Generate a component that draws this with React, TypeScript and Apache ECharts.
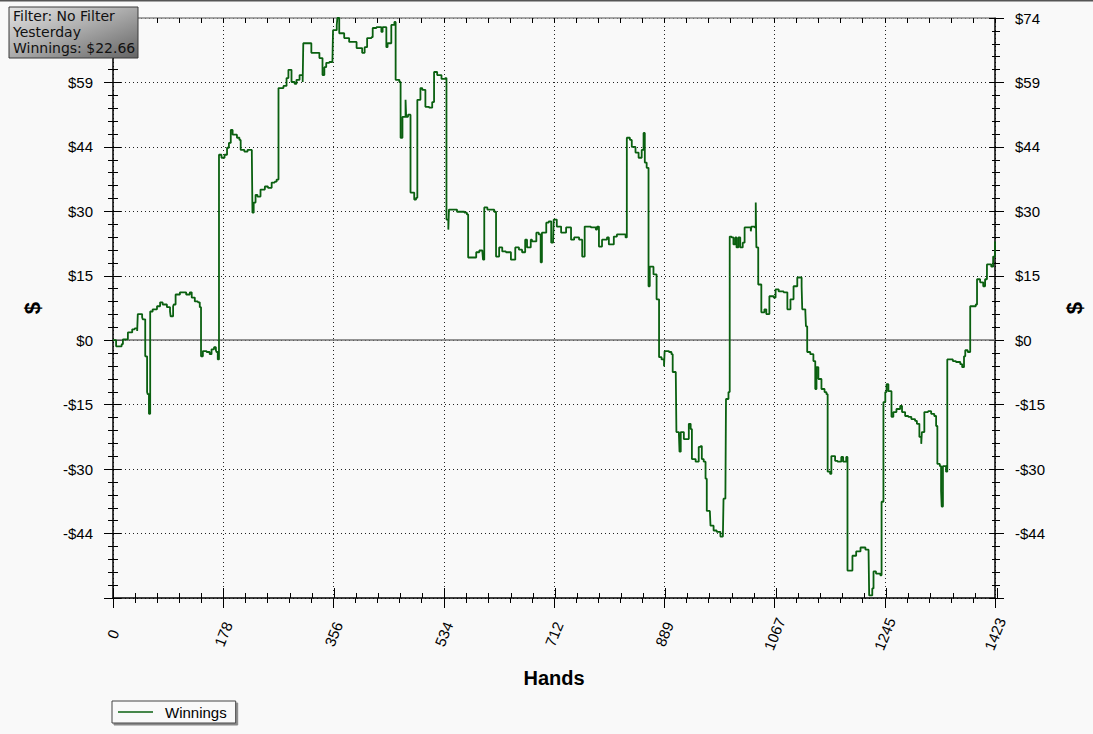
import React, { useEffect, useRef } from "react";
import * as echarts from "echarts";

const hands = [
  0,5,8,14,16,21,24,31,35,39,
  40,47,48,52,55,56,58,60,64,71,
  76,80,87,92,93,97,98,101,108,113,
  118,124,127,132,137,140,142,145,151,156,
  159,163,166,167,169,171,175,180,184,187,
  190,193,200,204,206,212,217,224,225,227,
  230,233,238,245,250,256,261,264,267,275,
  280,283,288,293,296,301,306,307,320,333,
  338,341,344,349,354,355,361,362,365,373,
  381,393,402,406,410,417,419,425,433,435,
  441,443,449,454,456,462,464,467,472,473,
  476,480,486,489,491,496,499,504,510,515,
  518,523,530,536,538,541,542,555,567,571,
  573,583,586,591,596,597,599,604,615,618,
  623,628,634,642,649,655,660,665,668,674,
  676,683,687,690,692,699,703,707,710,711,
  716,723,731,739,744,752,757,761,771,779,
  781,784,789,797,800,805,808,813,819,827,
  829,834,837,843,848,853,856,858,861,864,
  866,872,877,881,885,889,890,897,901,903,
  908,909,913,914,916,921,926,929,932,934,
  940,945,948,950,953,956,958,963,964,969,
  974,980,984,985,988,989,993,995,998,1001,
  1004,1006,1009,1012,1016,1019,1025,1029,1030,1035,
  1037,1038,1041,1046,1051,1054,1059,1066,1069,1074,
  1082,1088,1093,1098,1104,1111,1112,1117,1118,1120,
  1125,1130,1133,1135,1138,1143,1148,1151,1153,1157,
  1159,1165,1169,1175,1178,1183,1185,1191,1193,1199,
  1206,1214,1219,1220,1225,1227,1231,1238,1240,1243,
  1246,1248,1251,1256,1259,1264,1270,1273,1278,1283,
  1288,1294,1297,1301,1304,1305,1309,1315,1320,1325,
  1328,1330,1334,1336,1337,1339,1344,1346,1351,1355,
  1360,1367,1370,1373,1375,1379,1383,1388,1392,1394,
  1399,1404,1407,1410,1415,1417,1420,1423,
];

const winnings = [
  0,-1.4,-1.4,-0.9,0.2,0.2,1.8,2.5,2.7,2.1,
  6.0,5.3,4.8,-3.7,-11.9,-12.4,-16.9,6.6,7.1,7.8,
  8.7,8.2,7.6,6.6,5.5,7.8,8.2,10.5,11.0,11.0,
  10.5,11.0,9.8,8.9,8.7,7.6,-3.7,-2.5,-2.7,-3.2,
  -2.1,-1.6,-2.3,-2.7,-4.4,42.6,41.9,42.6,44.2,45.3,
  48.3,47.2,46.5,46.0,43.7,43.3,43.7,42.6,29.3,31.6,
  33.4,33.0,34.6,35.3,35.0,36.2,36.4,36.9,57.9,58.4,
  60.2,62.1,59.3,58.9,59.8,60.9,59.3,68.2,66.0,64.8,
  60.9,62.7,63.7,63.9,63.9,71.2,72.4,74.0,70.5,69.4,
  68.5,67.1,66.0,67.3,69.4,69.6,71.7,71.9,70.8,71.9,
  67.3,68.2,72.4,73.1,59.8,59.3,46.5,51.3,55.2,51.3,
  51.8,33.9,32.3,32.7,55.2,57.9,57.5,53.6,53.4,54.7,
  61.6,60.9,60.0,60.2,27.7,25.4,30.0,29.5,29.3,28.9,
  19.0,19.0,20.2,20.6,20.2,18.5,30.5,30.0,29.5,19.2,
  21.3,20.4,20.2,18.5,21.3,20.8,20.2,23.1,21.3,23.1,
  22.7,24.7,24.3,17.9,24.7,27.0,27.3,22.4,22.4,27.7,
  26.1,24.7,25.9,23.1,23.6,23.1,19.2,26.1,25.9,25.4,
  26.1,21.5,23.1,23.6,22.0,22.0,23.8,24.3,24.3,23.6,
  46.5,46.0,44.4,43.1,41.9,43.7,47.6,40.8,39.6,12.4,
  16.9,15.1,9.4,-3.9,-4.4,-6.0,-2.5,-2.7,-3.2,-7.3,
  -7.8,-21.1,-21.5,-25.6,-21.1,-22.7,-22.7,-19.2,-20.4,-27.3,
  -27.9,-24.5,-24.3,-27.3,-27.9,-31.8,-39.2,-39.4,-42.6,-43.7,
  -44.0,-45.1,-44.9,-36.4,-36.4,-13.5,-11.9,23.8,23.6,22.0,
  23.6,21.3,23.6,21.3,22.4,25.9,25.9,25.0,26.1,25.9,
  31.6,21.3,12.8,6.4,7.1,6.0,10.1,9.8,11.7,11.2,
  11.0,7.1,9.4,12.4,14.4,12.4,7.1,6.6,3.2,-2.7,
  -3.2,-4.8,-11.2,-6.2,-8.9,-11.2,-11.9,-12.4,-30.2,-30.7,
  -26.6,-27.7,-27.9,-26.8,-27.9,-26.8,-52.9,-52.9,-49.5,-48.5,
  -47.6,-48.1,-48.5,-58.6,-57.0,-53.1,-53.6,-54.0,-37.1,-14.2,
  -11.9,-10.1,-11.7,-17.6,-16.5,-15.8,-15.1,-16.5,-17.4,-17.6,
  -18.1,-18.5,-19.2,-22.2,-23.8,-21.1,-16.5,-16.3,-16.9,-17.4,
  -19.7,-28.4,-28.9,-34.6,-38.2,-28.9,-30.2,-4.4,-4.4,-4.8,
  -5.0,-5.5,-6.2,-3.7,-2.3,-2.7,7.8,7.8,8.2,14.0,
  13.3,12.4,14.0,17.4,17.4,16.9,19.2,22.66,
];

const xTickLabels = ["0", "178", "356", "534", "712", "889", "1067", "1245", "1423"];
// left axis: the $74 label is hidden behind the info box in the reference
const yTickLabelsLeft = ["", "-$44", "-$30", "-$15", "$0", "$15", "$30", "$44", "$59", ""];
const yTickLabelsRight = ["", "-$44", "-$30", "-$15", "$0", "$15", "$30", "$44", "$59", "$74"];
const infoLines = ["Filter: No Filter", "Yesterday", "Winnings: $22.66"];
const seriesName = "Winnings";

const X_MIN = 0;
const X_MAX = 1423;
const X_INTERVAL = 177.875;
const Y_MIN = -59.2;
const Y_MAX = 74;
const Y_INTERVAL = 14.8;

const FONT = "'Liberation Sans', Arial, sans-serif";
const LINE_COLOR = "#0a6010";

export default function App() {
  const ref = useRef<HTMLDivElement>(null);

  useEffect(() => {
    document.body.style.margin = "0";
    if (!ref.current) return;
    const chart = echarts.init(ref.current, undefined, { renderer: "svg" });

    const gridBox = { left: 113, right: 96, top: 18, bottom: 136 };
    const data = hands.map((h, i) => [h, winnings[i]]);

    const baseX = { type: "value", min: X_MIN, max: X_MAX, interval: X_INTERVAL };
    const baseY = { type: "value", min: Y_MIN, max: Y_MAX, interval: Y_INTERVAL };
    const black = { color: "#000", width: 1 };
    const labelStyle = { fontSize: 15, color: "#000", fontFamily: FONT };

    const option: any = {
      animation: false,
      backgroundColor: "#f9f9f9",
      grid: [
        { ...gridBox, containLabel: false },
        { ...gridBox, containLabel: false },
      ],
      xAxis: [
        {
          ...baseX,
          gridIndex: 0,
          position: "bottom",
          axisLine: { show: true, onZero: false, lineStyle: { color: "#000", width: 1.5 } },
          axisTick: { show: true, inside: false, length: 10, lineStyle: black },
          minorTick: { show: true, splitNumber: 5, length: 5, lineStyle: black },
          axisLabel: {
            show: true,
            formatter: (_v: number, i: number) => xTickLabels[i] ?? "",
            rotate: 68,
            align: "center",
            verticalAlign: "middle",
            margin: 36,
            ...labelStyle,
          },
          splitLine: { show: true, lineStyle: { type: [1, 3], color: "#222", width: 1 } },
          name: "Hands",
          nameLocation: "middle",
          nameGap: 70,
          nameTextStyle: { fontSize: 20, fontWeight: "bold", color: "#000", fontFamily: FONT },
        },
        {
          ...baseX,
          gridIndex: 0,
          position: "top",
          axisLine: { show: true, onZero: false, lineStyle: { color: "#888", width: 1.5 } },
          axisTick: { show: true, inside: true, length: 5, lineStyle: black },
          minorTick: { show: true, splitNumber: 5, length: 5, lineStyle: black },
          axisLabel: { show: false },
          splitLine: { show: false },
        },
        {
          ...baseX,
          gridIndex: 1,
          position: "bottom",
          axisLine: { show: false, onZero: false },
          axisTick: { show: true, inside: true, length: 10, lineStyle: black },
          minorTick: { show: true, splitNumber: 5, length: 5, lineStyle: black },
          axisLabel: { show: false },
          splitLine: { show: false },
        },
      ],
      yAxis: [
        {
          ...baseY,
          gridIndex: 0,
          position: "left",
          axisLine: { show: true, onZero: false, lineStyle: { color: "#000", width: 1.5 } },
          axisTick: { show: true, inside: false, length: 9, lineStyle: black },
          minorTick: { show: true, splitNumber: 5, length: 5, lineStyle: black },
          axisLabel: {
            formatter: (_v: number, i: number) => yTickLabelsLeft[i] ?? "",
            margin: 20,
            ...labelStyle,
          },
          splitLine: { show: true, lineStyle: { type: [1, 3], color: "#222", width: 1 } },
          name: "$",
          nameLocation: "middle",
          nameGap: 70,
          nameRotate: 90,
          nameTextStyle: { fontSize: 22, fontWeight: "bold", color: "#000", fontFamily: FONT },
        },
        {
          ...baseY,
          gridIndex: 0,
          position: "right",
          axisLine: { show: true, onZero: false, lineStyle: { color: "#000", width: 1.5 } },
          axisTick: { show: true, inside: false, length: 9, lineStyle: black },
          minorTick: { show: true, splitNumber: 5, length: 5, lineStyle: black },
          axisLabel: {
            formatter: (_v: number, i: number) => yTickLabelsRight[i] ?? "",
            margin: 20,
            ...labelStyle,
          },
          splitLine: { show: false },
          name: "$",
          nameLocation: "middle",
          nameGap: 68,
          nameRotate: 90,
          nameTextStyle: { fontSize: 22, fontWeight: "bold", color: "#000", fontFamily: FONT },
        },
        {
          ...baseY,
          gridIndex: 1,
          position: "left",
          axisLine: { show: false, onZero: false },
          axisTick: { show: true, inside: true, length: 8, lineStyle: black },
          minorTick: { show: true, splitNumber: 5, length: 5, lineStyle: black },
          axisLabel: { show: false },
          splitLine: { show: false },
        },
        {
          ...baseY,
          gridIndex: 1,
          position: "right",
          axisLine: { show: false, onZero: false },
          axisTick: { show: true, inside: true, length: 8, lineStyle: black },
          minorTick: { show: true, splitNumber: 5, length: 5, lineStyle: black },
          axisLabel: { show: false },
          splitLine: { show: false },
        },
      ],
      legend: {
        show: true,
        data: [{ name: seriesName, icon: "rect" }],
        left: 112,
        top: 701,
        orient: "horizontal",
        itemWidth: 35,
        itemHeight: 1.6,
        padding: [3, 9, 3, 6],
        borderColor: "#444",
        borderWidth: 1,
        backgroundColor: "#f9f9f9",
        shadowColor: "rgba(0,0,0,0.45)",
        shadowOffsetX: 2,
        shadowOffsetY: 2,
        shadowBlur: 1,
        selectedMode: false,
        itemStyle: { color: LINE_COLOR },
        textStyle: { ...labelStyle, padding: [0, 0, 0, 7], lineHeight: 16 },
      },
      series: [
        {
          name: seriesName,
          type: "line",
          xAxisIndex: 0,
          yAxisIndex: 0,
          data,
          step: "end",
          symbol: "none",
          showSymbol: false,
          lineStyle: { color: LINE_COLOR, width: 1.8 },
          itemStyle: { color: LINE_COLOR },
          z: 3,
          markLine: {
            silent: true,
            symbol: ["none", "none"],
            label: { show: false },
            lineStyle: { color: "#707070", type: "solid", width: 1.5 },
            data: [{ yAxis: 0 }],
            z: 1,
          },
        },
        {
          name: "_grid1",
          type: "line",
          xAxisIndex: 2,
          yAxisIndex: 2,
          data: [],
          symbol: "none",
        },
      ],
      graphic: [
        {
          type: "rect",
          shape: { x: 0, y: 0, width: 1093, height: 1.5 },
          style: { fill: "#555" },
          z: 10,
        },
        {
          type: "rect",
          shape: { x: 9, y: 7, width: 129, height: 51 },
          style: {
            fill: new echarts.graphic.LinearGradient(0, 0, 1, 1, [
              { offset: 0, color: "#e4e4e4" },
              { offset: 0.45, color: "#b0b0b0" },
              { offset: 1, color: "#646464" },
            ]),
            stroke: "#3a3a3a",
            lineWidth: 1,
          },
          z: 20,
        },
        ...infoLines.map((t, i) => ({
          type: "text",
          x: 13,
          y: 16 + i * 16,
          z: 21,
          style: {
            text: t,
            fill: "#111",
            font: "14px 'DejaVu Sans', Verdana, sans-serif",
            verticalAlign: "middle",
            align: "left",
          },
        })),
      ],
    };

    chart.setOption(option);
    return () => chart.dispose();
  }, []);

  return <div ref={ref} style={{ width: 1093, height: 734 }} />;
}
